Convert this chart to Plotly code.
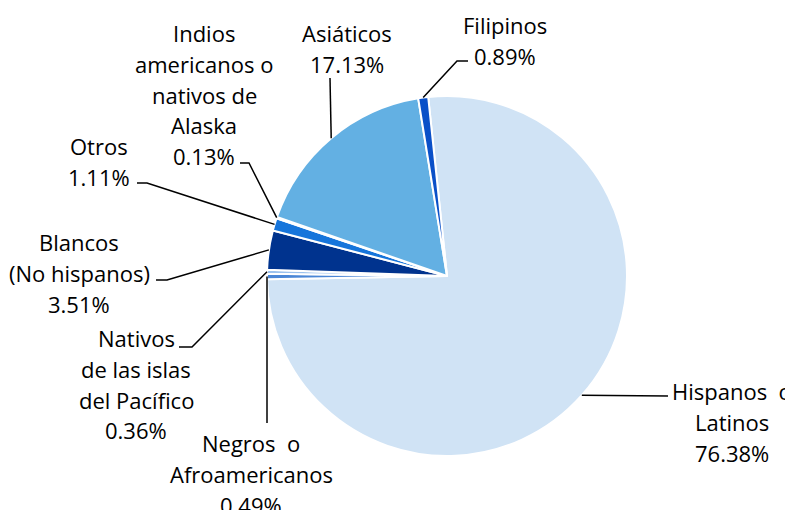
import math
import plotly.graph_objects as go

# ---- data ----
categories = [
    "Hispanos o Latinos",
    "Negros o Afroamericanos",
    "Nativos de las islas del Pacífico",
    "Blancos (No hispanos)",
    "Otros",
    "Indios americanos o nativos de Alaska",
    "Asiáticos",
    "Filipinos",
]
values = [76.38, 0.49, 0.36, 3.51, 1.11, 0.13, 17.13, 0.89]
label_name_lines = [
    ["Hispanos\u00a0 o", "Latinos"],
    ["Negros\u00a0 o", "Afroamericanos"],
    ["Nativos", "de las islas", "del Pacífico"],
    ["Blancos", "(No hispanos)"],
    ["Otros"],
    ["Indios", "americanos o", "nativos de", "Alaska"],
    ["Asiáticos"],
    ["Filipinos"],
]

# ---- style / layout ----
colors = ["#D0E3F5", "#4A86D6", "#9CC2EE", "#00338E",
          "#1675DB", "#5B9BD5", "#63B0E3", "#0A50C8"]
OFF = 8                      # page body margin of the html page
W, H = 793 - OFF, 510 - OFF  # figure size
CX, CY, R = 447, 276, 180    # pie centre / radius in window pixels
START = -6  # degrees, clockwise from 12 o'clock
LINE_GAP = 30.8
FONT = dict(family="Open Sans, Lato, sans-serif", size=22, color="#000000")

# label block centre x and first-line y (window pixels)
label_pos = [(732, 391), (251, 443), (136, 338), (79, 242),
             (99, 146), (204, 33), (347, 33), (505, 25)]
# leader line elbow points (window pixels), ending at slice edge mid-angle
elbows = [
    [(668, 396)],
    [(267, 423)],
    [(179, 347), (192, 347)],
    [(156, 280), (167, 280)],
    [(137, 183), (147, 183)],
    [(240, 163), (249, 163)],
    [(330, 78)],
    [(468, 61), (457, 61)],
]


def paper(x, y):
    return (x - OFF) / W, 1 - (y - OFF) / H


x0, y1 = paper(CX - R, CY - R)
x1, y0 = paper(CX + R, CY + R)

fig = go.Figure(go.Pie(
    labels=categories,
    values=values,
    sort=False,
    direction="clockwise",
    rotation=START,
    textinfo="none",
    hoverinfo="label+percent",
    marker=dict(colors=colors, line=dict(color="#FFFFFF", width=2)),
    domain=dict(x=[x0, x1], y=[y0, y1]),
))

annotations = []
shapes = []
total = sum(values)
cum = 0.0
for i, v in enumerate(values):
    a0 = START + 360 * cum / total
    mid = a0 + 180 * v / total
    cum += v
    ax = CX + R * math.sin(math.radians(mid))
    ay = CY - R * math.cos(math.radians(mid))

    lines = label_name_lines[i] + [f"{v:.2f}%"]
    lx, ly = label_pos[i]
    for k, t in enumerate(lines):
        px_, py_ = paper(lx, ly + k * LINE_GAP)
        annotations.append(dict(
            x=px_, y=py_, xref="paper", yref="paper", text=t,
            showarrow=False, xanchor="center", yanchor="middle", font=FONT))

    pts = elbows[i] + [(ax, ay)]
    path = ""
    for j, (x, y) in enumerate(pts):
        qx, qy = paper(x, y)
        path += ("M " if j == 0 else " L ") + f"{qx:.5f},{qy:.5f}"
    shapes.append(dict(type="path", path=path, xref="paper", yref="paper",
                       line=dict(color="#000000", width=1.5)))

fig.update_layout(
    width=W, height=H, autosize=False,
    margin=dict(l=0, r=0, t=0, b=0),
    paper_bgcolor="#FFFFFF", plot_bgcolor="#FFFFFF",
    showlegend=False,
    annotations=annotations,
    shapes=shapes,
)

fig.write_html("out.html")
